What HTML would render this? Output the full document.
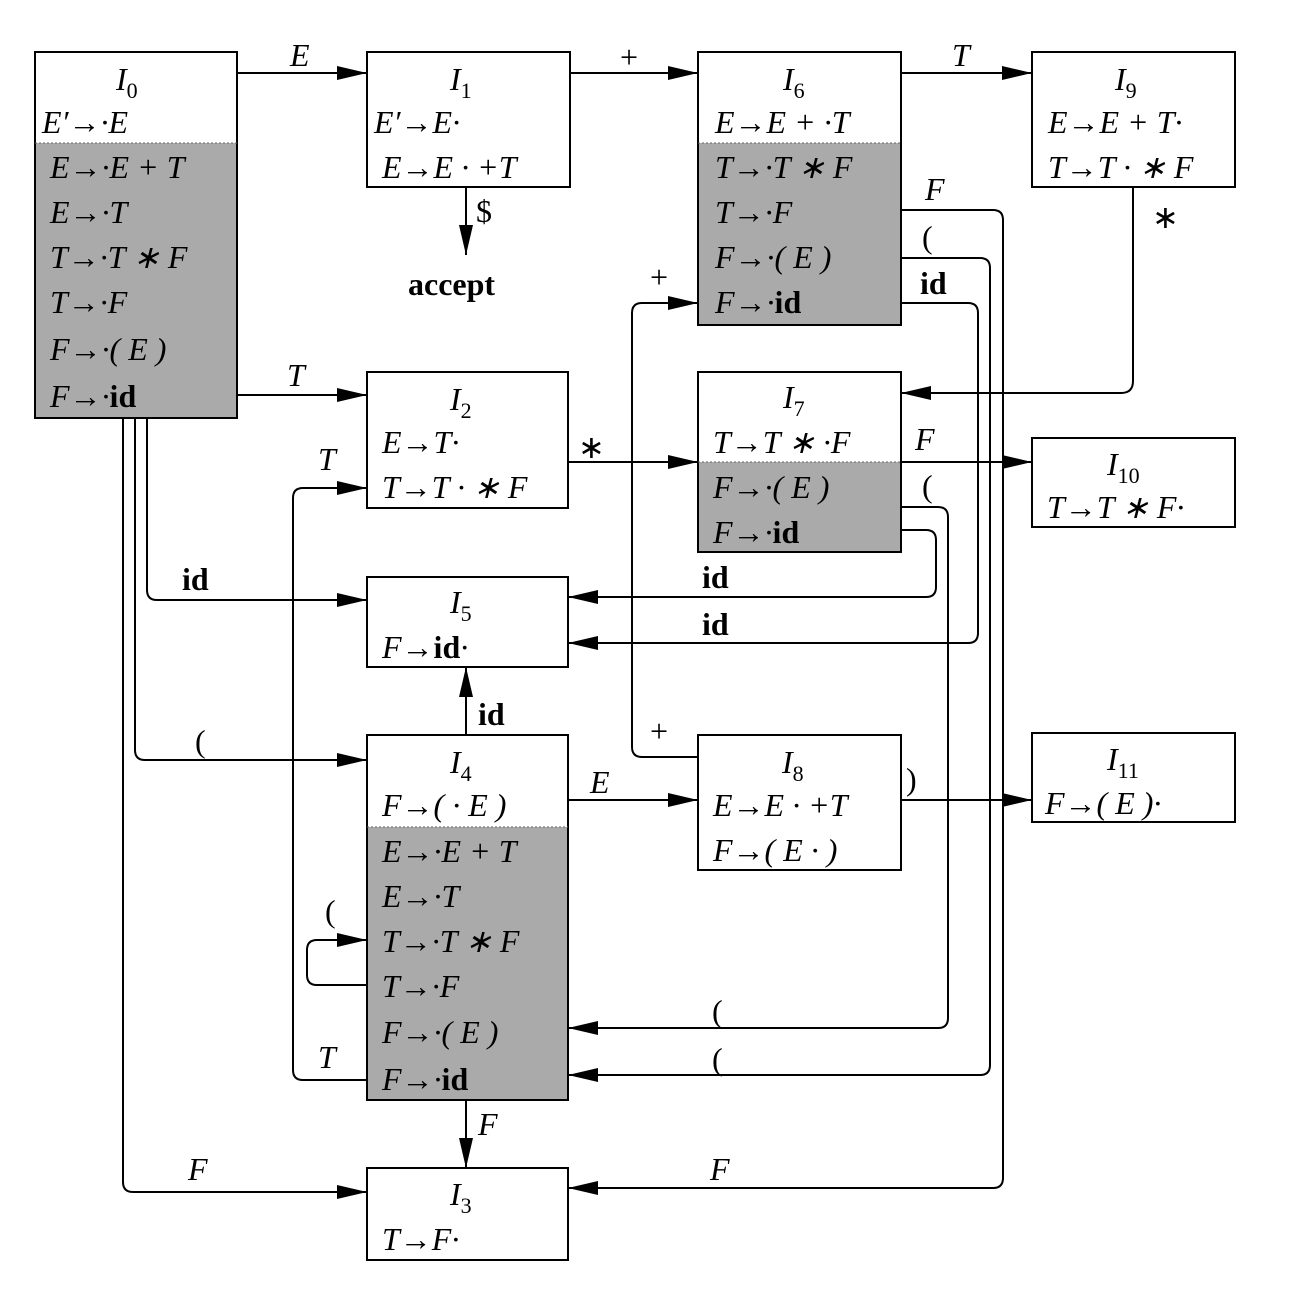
<!DOCTYPE html>
<html><head><meta charset="utf-8"><style>
body{margin:0;background:#fff}
svg text{font-family:"Liberation Serif",serif;font-size:32px;font-style:italic;fill:#000}
.b{font-weight:bold;font-style:normal}
.n{font-style:normal}
</style></head><body>
<svg width="1304" height="1302" viewBox="0 0 1304 1302" xmlns="http://www.w3.org/2000/svg">
<defs>
<marker id="a" markerWidth="30" markerHeight="14" refX="30" refY="7" orient="auto" markerUnits="userSpaceOnUse">
<path d="M0,0 L30,7 L0,14 Z" fill="#000"/></marker>
</defs>
<g fill="#aaa" stroke="none">
<rect x="35" y="143" width="202" height="275"/>
<rect x="698" y="143" width="203" height="182"/>
<rect x="698" y="462" width="203" height="90"/>
<rect x="367" y="827" width="201" height="273"/>
</g>
<g fill="none" stroke="#000" stroke-width="2">
<rect x="35" y="52" width="202" height="366"/>
<rect x="367" y="52" width="203" height="135"/>
<rect x="698" y="52" width="203" height="273"/>
<rect x="1032" y="52" width="203" height="135"/>
<rect x="367" y="372" width="201" height="136"/>
<rect x="698" y="372" width="203" height="180"/>
<rect x="1032" y="438" width="203" height="89"/>
<rect x="367" y="577" width="201" height="90"/>
<rect x="367" y="735" width="201" height="365"/>
<rect x="698" y="735" width="203" height="135"/>
<rect x="1032" y="733" width="203" height="89"/>
<rect x="367" y="1168" width="201" height="92"/>
</g>
<g fill="none" stroke="#000" stroke-width="2" marker-end="url(#a)">
<path d="M237,73 H367"/>
<path d="M570,73 H698"/>
<path d="M901,73 H1032"/>
<path d="M466,187 V255"/>
<path d="M237,395 H367"/>
<path d="M568,462 H698"/>
<path d="M901,462 H1032"/>
<path d="M1133,187 V381 Q1133,393 1121,393 H901"/>
<path d="M901,210 H993 Q1003,210 1003,220 V1178 Q1003,1188 993,1188 H568"/>
<path d="M901,258 H980 Q990,258 990,268 V1065 Q990,1075 980,1075 H568"/>
<path d="M901,303 H968 Q978,303 978,313 V633 Q978,643 968,643 H568"/>
<path d="M901,507 H938 Q948,507 948,517 V1018 Q948,1028 938,1028 H568"/>
<path d="M901,530 H926 Q936,530 936,540 V587 Q936,597 926,597 H568"/>
<path d="M698,757 H642 Q632,757 632,747 V313 Q632,303 642,303 H698"/>
<path d="M901,800 H1032"/>
<path d="M568,800 H698"/>
<path d="M466,735 V667"/>
<path d="M466,1100 V1168"/>
<path d="M367,985 H317 Q307,985 307,975 V950 Q307,940 317,940 H367"/>
<path d="M367,1080 H303 Q293,1080 293,1070 V498 Q293,488 303,488 H367"/>
<path d="M147,418 V590 Q147,600 157,600 H367"/>
<path d="M135,418 V750 Q135,760 145,760 H367"/>
<path d="M123,418 V1182 Q123,1192 133,1192 H367"/>
</g>
<!-- dotted separators -->
<g stroke="#666" stroke-width="1" stroke-dasharray="2,2">
<line x1="35" y1="143" x2="237" y2="143"/><line x1="698" y1="143" x2="901" y2="143"/>
<line x1="698" y1="462" x2="901" y2="462"/><line x1="367" y1="827" x2="568" y2="827"/>
</g>
<!-- I0 -->
<text x="116" y="90">I<tspan font-size="22" dy="8" class="n">0</tspan></text>
<text x="42" y="133">E′→·E</text>
<text x="50" y="178">E→·E + T</text>
<text x="50" y="223">E→·T</text>
<text x="50" y="268">T→·T ∗ F</text>
<text x="50" y="313">T→·F</text>
<text x="50" y="360">F→·( E )</text>
<text x="50" y="407">F→·<tspan class="b">id</tspan></text>
<!-- I1 -->
<text x="450" y="90">I<tspan font-size="22" dy="8" class="n">1</tspan></text>
<text x="374" y="133">E′→E·</text>
<text x="382" y="178">E→E · +T</text>
<text x="408" y="295" class="b">accept</text>
<text x="476" y="222" class="n" font-size="26">$</text>
<!-- I6 -->
<text x="783" y="90">I<tspan font-size="22" dy="8" class="n">6</tspan></text>
<text x="715" y="133">E→E + ·T</text>
<text x="715" y="178">T→·T ∗ F</text>
<text x="715" y="223">T→·F</text>
<text x="715" y="268">F→·( E )</text>
<text x="715" y="313">F→·<tspan class="b">id</tspan></text>
<!-- I9 -->
<text x="1115" y="90">I<tspan font-size="22" dy="8" class="n">9</tspan></text>
<text x="1048" y="133">E→E + T·</text>
<text x="1048" y="178">T→T · ∗ F</text>
<!-- I2 -->
<text x="450" y="410">I<tspan font-size="22" dy="8" class="n">2</tspan></text>
<text x="382" y="453">E→T·</text>
<text x="382" y="498">T→T · ∗ F</text>
<!-- I7 -->
<text x="783" y="408">I<tspan font-size="22" dy="8" class="n">7</tspan></text>
<text x="713" y="453">T→T ∗ ·F</text>
<text x="713" y="498">F→·( E )</text>
<text x="713" y="543">F→·<tspan class="b">id</tspan></text>
<!-- I10 -->
<text x="1107" y="475">I<tspan font-size="22" dy="8" class="n">10</tspan></text>
<text x="1047" y="518">T→T ∗ F·</text>
<!-- I5 -->
<text x="450" y="613">I<tspan font-size="22" dy="8" class="n">5</tspan></text>
<text x="382" y="658">F→<tspan class="b">id</tspan>·</text>
<!-- I4 -->
<text x="450" y="773">I<tspan font-size="22" dy="8" class="n">4</tspan></text>
<text x="382" y="816">F→(  · E )</text>
<text x="382" y="862">E→·E + T</text>
<text x="382" y="907">E→·T</text>
<text x="382" y="952">T→·T ∗ F</text>
<text x="382" y="997">T→·F</text>
<text x="382" y="1043">F→·( E )</text>
<text x="382" y="1090">F→·<tspan class="b">id</tspan></text>
<!-- I8 -->
<text x="782" y="773">I<tspan font-size="22" dy="8" class="n">8</tspan></text>
<text x="713" y="816">E→E · +T</text>
<text x="713" y="861">F→( E · )</text>
<!-- I11 -->
<text x="1107" y="770">I<tspan font-size="22" dy="8" class="n">11</tspan></text>
<text x="1045" y="814">F→( E )·</text>
<!-- I3 -->
<text x="450" y="1205">I<tspan font-size="22" dy="8" class="n">3</tspan></text>
<text x="382" y="1250">T→F·</text>
<!-- edge labels -->
<text x="290" y="66">E</text>
<text x="620" y="68" class="n">+</text>
<text x="952" y="66">T</text>
<text x="287" y="386">T</text>
<text x="578" y="458" class="n">∗</text>
<text x="915" y="450">F</text>
<text x="1152" y="228" class="n">∗</text>
<text x="925" y="200">F</text>
<text x="922" y="248" class="n">(</text>
<text x="920" y="294" class="b">id</text>
<text x="922" y="497" class="n">(</text>
<text x="650" y="288" class="n">+</text>
<text x="650" y="742" class="n">+</text>
<text x="906" y="790" class="n">)</text>
<text x="590" y="793">E</text>
<text x="478" y="725" class="b">id</text>
<text x="478" y="1135">F</text>
<text x="325" y="922" class="n">(</text>
<text x="318" y="470">T</text>
<text x="318" y="1068">T</text>
<text x="182" y="590" class="b">id</text>
<text x="195" y="752" class="n">(</text>
<text x="188" y="1180">F</text>
<text x="710" y="1180">F</text>
<text x="712" y="1070" class="n">(</text>
<text x="712" y="1022" class="n">(</text>
<text x="702" y="635" class="b">id</text>
<text x="702" y="588" class="b">id</text>
</svg>
</body></html>
